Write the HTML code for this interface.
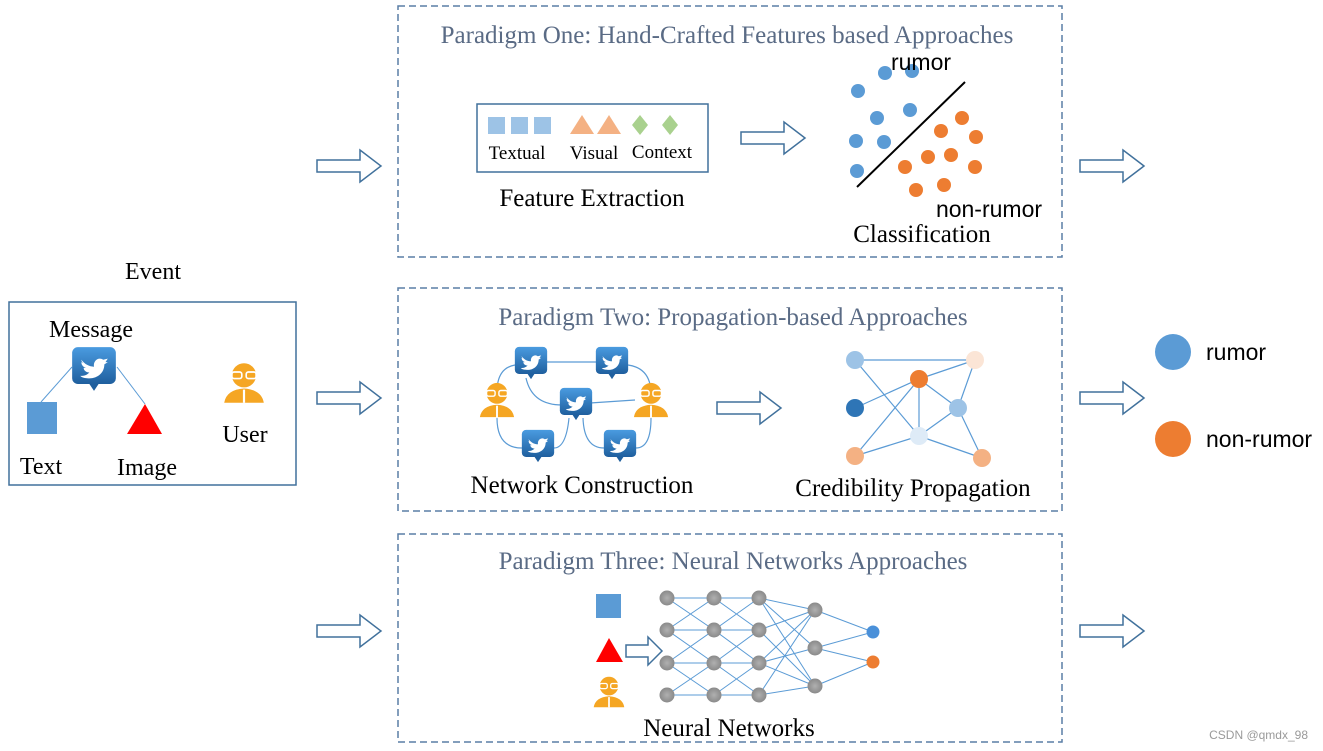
<!DOCTYPE html>
<html><head><meta charset="utf-8"><style>
html,body{margin:0;padding:0;background:#fff;}
svg{display:block}
.t{font-family:"Liberation Serif",serif;fill:#000;}
.s{font-family:"Liberation Sans",sans-serif;fill:#000;}
.h{font-family:"Liberation Serif",serif;fill:#5a6b85;font-size:25px;}
</style></head><body>
<svg width="1323" height="751" viewBox="0 0 1323 751" xmlns="http://www.w3.org/2000/svg">
<defs>
<linearGradient id="tg" x1="0" y1="0" x2="0" y2="1"><stop offset="0" stop-color="#4a9be0"/><stop offset="1" stop-color="#1f5f9e"/></linearGradient>
<radialGradient id="gg"><stop offset="0" stop-color="#b0b0b0"/><stop offset="1" stop-color="#8a8a8a"/></radialGradient>
<symbol id="tw" viewBox="0 0 40 40" overflow="visible">
<rect x="1" y="1" width="38" height="32" rx="5" fill="url(#tg)"/>
<path d="M16 33 L20 39 L24 33Z" fill="#1f5f9e"/>
<path d="M9 12 C12 16 16 18 20 18 C19 13 24 9 28 12 L32 11 L30 14 L32 14 L29 16 C29 24 22 29 14 28 C11 28 9 27 8 26 C12 26 14 25 16 23 C13 23 11 21 11 19 L13 19 C10 18 9 16 9 14 L11 15 C9 14 9 12 9 12Z" fill="#fff"/>
</symbol>
<symbol id="us" viewBox="0 0 40 40" overflow="visible">
<circle cx="20" cy="13" r="11" fill="#f5a623"/>
<rect x="9" y="10" width="9" height="6" rx="2" fill="none" stroke="#fff" stroke-width="1.5"/>
<rect x="22" y="10" width="9" height="6" rx="2" fill="none" stroke="#fff" stroke-width="1.5"/>
<path d="M2 38 Q4 26 20 25 Q36 26 38 38Z" fill="#f5a623"/>
<path d="M19 26 L21 26 L21 38 L19 38Z" fill="#fff"/>
</symbol>
<symbol id="ar" viewBox="0 0 66 34" overflow="visible">
<path d="M1 11 L44 11 L44 1 L65 17 L44 33 L44 23 L1 23Z" fill="#fff" stroke="#41719c" stroke-width="1.5"/>
</symbol>
</defs>

<g fill="none" stroke="#5a7ea6" stroke-width="1.5" stroke-dasharray="7,4">
<rect x="398" y="6" width="664" height="251"/>
<rect x="398" y="288" width="664" height="223"/>
<rect x="398" y="534" width="664" height="208"/>
</g>
<text class="h" x="727" y="43" text-anchor="middle">Paradigm One: Hand-Crafted Features based Approaches</text>
<text class="h" x="733" y="325" text-anchor="middle">Paradigm Two: Propagation-based Approaches</text>
<text class="h" x="733" y="569" text-anchor="middle">Paradigm Three: Neural Networks Approaches</text>

<use href="#ar" x="316" y="149" width="66" height="34"/>
<use href="#ar" x="316" y="381" width="66" height="34"/>
<use href="#ar" x="316" y="614" width="66" height="34"/>
<use href="#ar" x="1079" y="149" width="66" height="34"/>
<use href="#ar" x="1079" y="381" width="66" height="34"/>
<use href="#ar" x="1079" y="614" width="66" height="34"/>
<use href="#ar" x="740" y="121" width="66" height="34"/>
<use href="#ar" x="716" y="391" width="66" height="34"/>
<path d="M626 645 L648 645 L648 637 L662 651 L648 665 L648 657 L626 657Z" fill="#fff" stroke="#41719c" stroke-width="1.5"/>

<text class="t" x="153" y="279" font-size="24" text-anchor="middle">Event</text>
<rect x="9" y="302" width="287" height="183" fill="none" stroke="#41719c" stroke-width="1.5"/>
<text class="t" x="91" y="337" font-size="24" text-anchor="middle">Message</text>
<line x1="72" y1="367" x2="41" y2="402" stroke="#5b9bd5"/>
<line x1="117" y1="367" x2="145" y2="404" stroke="#5b9bd5"/>
<use href="#tw" x="71" y="346" width="46" height="46"/>
<rect x="27" y="402" width="30" height="32" fill="#5b9bd5"/>
<path d="M127 434 L145 404 L162 434Z" fill="#f00"/>
<use href="#us" x="222" y="361" width="44" height="44"/>
<text class="t" x="245" y="442" font-size="24" text-anchor="middle">User</text>
<text class="t" x="41" y="474" font-size="24" text-anchor="middle">Text</text>
<text class="t" x="147" y="475" font-size="24" text-anchor="middle">Image</text>

<rect x="477" y="104" width="231" height="68" fill="none" stroke="#41719c" stroke-width="1.5"/>
<g fill="#9dc3e6"><rect x="488" y="117" width="17" height="17"/><rect x="511" y="117" width="17" height="17"/><rect x="534" y="117" width="17" height="17"/></g>
<g fill="#f4b183"><path d="M570 134 L582 115 L594 134Z"/><path d="M597 134 L609 115 L621 134Z"/></g>
<g fill="#a9d18e"><path d="M640 115 L648 125 L640 135 L632 125Z"/><path d="M670 115 L678 125 L670 135 L662 125Z"/></g>
<text class="t" x="517" y="159" font-size="19" text-anchor="middle">Textual</text>
<text class="t" x="594" y="159" font-size="19" text-anchor="middle">Visual</text>
<text class="t" x="662" y="158" font-size="19" text-anchor="middle">Context</text>
<text class="t" x="592" y="206" font-size="25" text-anchor="middle">Feature Extraction</text>

<g fill="#5b9bd5"><circle cx="858" cy="91" r="7"/><circle cx="885" cy="73" r="7"/><circle cx="912" cy="71" r="7"/><circle cx="877" cy="118" r="7"/><circle cx="910" cy="110" r="7"/><circle cx="856" cy="141" r="7"/><circle cx="884" cy="142" r="7"/><circle cx="857" cy="171" r="7"/></g>
<g fill="#ed7d31"><circle cx="941" cy="131" r="7"/><circle cx="962" cy="118" r="7"/><circle cx="976" cy="137" r="7"/><circle cx="905" cy="167" r="7"/><circle cx="928" cy="157" r="7"/><circle cx="951" cy="155" r="7"/><circle cx="975" cy="167" r="7"/><circle cx="916" cy="190" r="7"/><circle cx="944" cy="185" r="7"/></g>
<line x1="857" y1="187" x2="965" y2="82" stroke="#000" stroke-width="2"/>
<text class="s" x="921" y="70" font-size="23" text-anchor="middle">rumor</text>
<text class="s" x="989" y="217" font-size="23" text-anchor="middle">non-rumor</text>
<text class="t" x="922" y="242" font-size="25" text-anchor="middle">Classification</text>

<g fill="none" stroke="#5b9bd5" stroke-width="1.2">
<path d="M531 362 L612 362"/>
<path d="M515 365 Q497 368 497 392"/>
<path d="M628 365 Q650 368 651 392"/>
<path d="M526 378 Q532 405 562 405"/>
<path d="M590 403 L635 400"/>
<path d="M497 418 Q497 448 522 448"/>
<path d="M651 418 Q651 448 636 448"/>
<path d="M569 418 Q566 448 554 448"/>
<path d="M583 418 Q584 448 604 448"/>
</g>
<use href="#tw" x="514" y="346" width="34" height="34"/>
<use href="#tw" x="595" y="346" width="34" height="34"/>
<use href="#tw" x="559" y="387" width="34" height="34"/>
<use href="#tw" x="521" y="429" width="34" height="34"/>
<use href="#tw" x="603" y="429" width="34" height="34"/>
<use href="#us" x="478" y="381" width="38" height="38"/>
<use href="#us" x="632" y="381" width="38" height="38"/>
<text class="t" x="582" y="493" font-size="25" text-anchor="middle">Network Construction</text>

<g stroke="#5b9bd5" stroke-width="1.2">
<line x1="855" y1="360" x2="975" y2="360"/>
<line x1="855" y1="360" x2="919" y2="436"/>
<line x1="855" y1="408" x2="919" y2="379"/>
<line x1="919" y1="379" x2="975" y2="360"/>
<line x1="919" y1="379" x2="919" y2="436"/>
<line x1="919" y1="379" x2="958" y2="408"/>
<line x1="919" y1="379" x2="855" y2="456"/>
<line x1="975" y1="360" x2="958" y2="408"/>
<line x1="958" y1="408" x2="919" y2="436"/>
<line x1="958" y1="408" x2="982" y2="458"/>
<line x1="855" y1="456" x2="919" y2="436"/>
<line x1="919" y1="436" x2="982" y2="458"/>
</g>
<circle cx="855" cy="360" r="9" fill="#9dc3e6"/>
<circle cx="975" cy="360" r="9" fill="#fbe5d6"/>
<circle cx="919" cy="379" r="9" fill="#ed7d31"/>
<circle cx="855" cy="408" r="9" fill="#2e75b6"/>
<circle cx="958" cy="408" r="9" fill="#9dc3e6"/>
<circle cx="919" cy="436" r="9" fill="#deebf7"/>
<circle cx="855" cy="456" r="9" fill="#f4b183"/>
<circle cx="982" cy="458" r="9" fill="#f4b183"/>
<text class="t" x="913" y="496" font-size="25" text-anchor="middle">Credibility Propagation</text>

<circle cx="1173" cy="352" r="18" fill="#5b9bd5"/>
<text class="s" x="1206" y="360" font-size="23">rumor</text>
<circle cx="1173" cy="439" r="18" fill="#ed7d31"/>
<text class="s" x="1206" y="447" font-size="23">non-rumor</text>

<rect x="596" y="594" width="25" height="24" fill="#5b9bd5"/>
<path d="M596 662 L609 638 L623 662Z" fill="#f00"/>
<use href="#us" x="592" y="675" width="34" height="34"/>
<g stroke="#5b9bd5" stroke-width="1">
<path d="M667 598L714 630M667 630L714 598M667 630L714 663M667 663L714 630M667 663L714 695M667 695L714 663M667 598H714M667 630H714M667 663H714M667 695H714"/>
<path d="M714 598L759 630M714 630L759 598M714 630L759 663M714 663L759 630M714 663L759 695M714 695L759 663M714 598H759M714 630H759M714 663H759M714 695H759"/>
<path d="M759 598L815 610M759 598L815 648M759 630L815 610M759 630L815 686M759 663L815 610M759 663L815 648M759 663L815 686M759 695L815 610M759 695L815 686M759 598L815 686"/>
<path d="M815 610L873 632M815 648L873 632M815 648L873 662M815 686L873 662"/>
</g>
<g fill="url(#gg)">
<circle cx="667" cy="598" r="7.5"/><circle cx="667" cy="630" r="7.5"/><circle cx="667" cy="663" r="7.5"/><circle cx="667" cy="695" r="7.5"/>
<circle cx="714" cy="598" r="7.5"/><circle cx="714" cy="630" r="7.5"/><circle cx="714" cy="663" r="7.5"/><circle cx="714" cy="695" r="7.5"/>
<circle cx="759" cy="598" r="7.5"/><circle cx="759" cy="630" r="7.5"/><circle cx="759" cy="663" r="7.5"/><circle cx="759" cy="695" r="7.5"/>
<circle cx="815" cy="610" r="7.5"/><circle cx="815" cy="648" r="7.5"/><circle cx="815" cy="686" r="7.5"/>
</g>
<circle cx="873" cy="632" r="6.5" fill="#4a90d9"/>
<circle cx="873" cy="662" r="6.5" fill="#ed7d31"/>
<text class="t" x="729" y="736" font-size="25" text-anchor="middle">Neural Networks</text>

<text class="s" x="1308" y="739" font-size="12" text-anchor="end" style="fill:#9a9a9a">CSDN @qmdx_98</text>
</svg>
</body></html>
